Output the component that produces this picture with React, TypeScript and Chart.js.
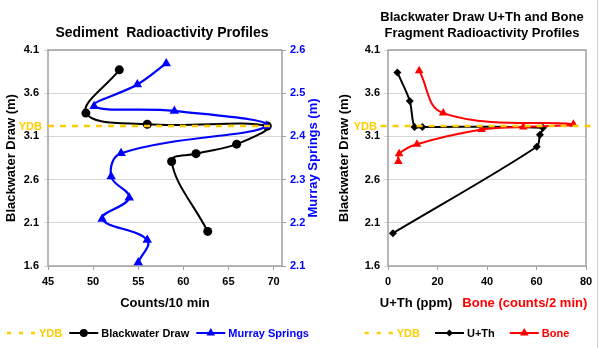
import React, { useEffect, useRef } from 'react';
import { Chart, registerables } from 'chart.js';
Chart.register(...registerables);

const FONT = '"Liberation Sans", Arial, Helvetica, sans-serif';
const YELLOW = '#FFCC00';
const BLUE = '#0000FF';
const RED = '#FF0000';
const BLACK = '#000000';
const GRID = '#d6d6d6';
const FRAME = '#a0a0a0';

// ---------- Left chart data ----------
const leftTitle = 'Sediment  Radioactivity Profiles';
const leftXTitle = 'Counts/10 min';
const depthTitle = 'Blackwater Draw (m)';
const msTitle = 'Murray Springs (m)';
const countTicks = [45, 50, 55, 60, 65, 70];
const depthTicks = [1.6, 2.1, 2.6, 3.1, 3.6, 4.1];
const msTicks = [2.1, 2.2, 2.3, 2.4, 2.5, 2.6];
const ydbDepth = 3.22;
const ydbCountsRange = [45, 70];
const bwCounts = [52.9, 49.2, 56.0, 69.3, 65.9, 61.4, 58.7, 62.7];
const bwDepth = [3.87, 3.37, 3.24, 3.22, 3.01, 2.9, 2.81, 2.0];
const msCounts = [58.1, 54.9, 50.1, 59.0, 69.2, 53.1, 52.0, 54.0, 51.0, 56.0, 55.0];
const msDepth = [2.569, 2.52, 2.47, 2.459, 2.424, 2.361, 2.307, 2.258, 2.209, 2.16, 2.108];

// ---------- Right chart data ----------
const rightTitle = ['Blackwater Draw U+Th and Bone', 'Fragment Radioactivity Profiles'];
const uthTitle = 'U+Th (ppm)';
const boneTitle = 'Bone (counts/2 min)';
const ppmTicks = [0, 20, 40, 60, 80];
const ydbPpmRange = [-3, 84];
const uthPpm = [3.8, 8.8, 10.7, 13.9, 62.6, 61.4, 60.1, 2.0];
const uthDepth = [3.84, 3.51, 3.21, 3.21, 3.2, 3.12, 2.98, 1.98];
const boneCounts = [12.6, 22.3, 74.9, 54.7, 37.8, 11.7, 4.5, 4.2];
const boneDepth = [3.86, 3.37, 3.24, 3.21, 3.18, 3.01, 2.9, 2.81];

const pts = (xs: number[], ys: number[]) => xs.map((x, i) => ({ x, y: ys[i] }));
const fixedTicks = (vals: number[]) => (scale: any) => {
  scale.ticks = vals.map((v) => ({ value: v }));
};
const fmt1 = (v: any) => Number(v).toFixed(1);
const bold = (size: number) => ({ family: FONT, size, weight: 'bold' as const });

function drawMarker(ctx: CanvasRenderingContext2D, style: string, x: number, y: number, r: number, color: string) {
  ctx.save();
  ctx.fillStyle = color;
  ctx.beginPath();
  if (style === 'circle') {
    ctx.arc(x, y, r, 0, Math.PI * 2);
  } else if (style === 'triangle') {
    ctx.moveTo(x, y - r);
    ctx.lineTo(x + 0.866 * r, y + 0.5 * r);
    ctx.lineTo(x - 0.866 * r, y + 0.5 * r);
    ctx.closePath();
  } else if (style === 'rectRot') {
    ctx.moveTo(x - r, y);
    ctx.lineTo(x, y - r);
    ctx.lineTo(x + r, y);
    ctx.lineTo(x, y + r);
    ctx.closePath();
  }
  ctx.fill();
  ctx.restore();
}

type LegendItem = { label: string; color: string; dashed?: boolean; marker?: string; r?: number };

function drawLegend(chart: any, items: LegendItem[], centerX: number, y: number, itemGap: number) {
  const ctx: CanvasRenderingContext2D = chart.ctx;
  ctx.save();
  ctx.font = `bold 11px ${FONT}`;
  const seg = 29;
  const tg = 3;
  const widths = items.map((it) => seg + tg + ctx.measureText(it.label).width);
  const total = widths.reduce((a, b) => a + b, 0) + itemGap * (items.length - 1);
  let x = centerX - total / 2;
  items.forEach((it, i) => {
    ctx.strokeStyle = it.color;
    ctx.lineWidth = it.dashed ? 2.5 : 2;
    ctx.setLineDash(it.dashed ? [4, 8] : []);
    ctx.beginPath();
    ctx.moveTo(x, y);
    ctx.lineTo(x + seg, y);
    ctx.stroke();
    ctx.setLineDash([]);
    if (it.marker) drawMarker(ctx, it.marker, x + seg / 2, y, it.r || 4, it.color);
    ctx.fillStyle = it.color;
    ctx.textAlign = 'left';
    ctx.textBaseline = 'middle';
    ctx.fillText(it.label, x + seg + tg, y + 0.5);
    x += widths[i] + itemGap;
  });
  ctx.restore();
}

function drawFrame(chart: any) {
  const { ctx, chartArea } = chart;
  ctx.save();
  ctx.strokeStyle = FRAME;
  ctx.lineWidth = 1.5;
  ctx.strokeRect(chartArea.left, chartArea.top, chartArea.right - chartArea.left, chartArea.bottom - chartArea.top);
  ctx.restore();
}

function drawYdbLabel(chart: any, rightX: number) {
  const { ctx } = chart;
  const yPix = chart.scales.y.getPixelForValue(ydbDepth);
  ctx.save();
  ctx.font = `bold 11px ${FONT}`;
  ctx.fillStyle = YELLOW;
  ctx.textAlign = 'right';
  ctx.textBaseline = 'middle';
  ctx.fillText('YDB', rightX, yPix + 0.5);
  ctx.restore();
}

const leftDeco = {
  id: 'leftDeco',
  beforeDatasetsDraw(chart: any) {
    drawFrame(chart);
  },
  afterDraw(chart: any) {
    const { ctx, chartArea } = chart;
    ctx.save();
    ctx.font = `bold 14px ${FONT}`;
    ctx.fillStyle = BLACK;
    ctx.textAlign = 'center';
    ctx.textBaseline = 'middle';
    ctx.fillText(leftTitle, 162, 33);
    ctx.restore();

    drawYdbLabel(chart, chartArea.left - 6);

    ctx.save();
    ctx.translate(313, (chartArea.top + chartArea.bottom) / 2);
    ctx.rotate(-Math.PI / 2);
    ctx.font = `bold 13px ${FONT}`;
    ctx.fillStyle = BLUE;
    ctx.textAlign = 'center';
    ctx.textBaseline = 'middle';
    ctx.fillText(msTitle, 0, 0);
    ctx.restore();

    drawLegend(
      chart,
      [
        { label: 'YDB', color: YELLOW, dashed: true },
        { label: 'Blackwater Draw', color: BLACK, marker: 'circle', r: 4 },
        { label: 'Murray Springs', color: BLUE, marker: 'triangle', r: 5 },
      ],
      158,
      333,
      7
    );
  },
};

const rightDeco = {
  id: 'rightDeco',
  beforeDatasetsDraw(chart: any) {
    drawFrame(chart);
  },
  afterDraw(chart: any) {
    const { ctx, chartArea } = chart;
    ctx.save();
    ctx.font = `bold 13px ${FONT}`;
    ctx.fillStyle = BLACK;
    ctx.textAlign = 'center';
    ctx.textBaseline = 'middle';
    ctx.fillText(rightTitle[0], 152, 17);
    ctx.fillText(rightTitle[1], 152, 33);

    // two-coloured x axis title
    const gap = 10;
    const w1 = ctx.measureText(uthTitle).width;
    const w2 = ctx.measureText(boneTitle).width;
    let x = 153.5 - (w1 + gap + w2) / 2;
    ctx.textAlign = 'left';
    ctx.fillText(uthTitle, x, 303);
    ctx.fillStyle = RED;
    ctx.fillText(boneTitle, x + w1 + gap, 303);

    // outer border line on the right
    ctx.strokeStyle = '#d0d0d0';
    ctx.lineWidth = 1;
    ctx.beginPath();
    ctx.moveTo(267.5, 0);
    ctx.lineTo(267.5, 348);
    ctx.stroke();
    ctx.restore();

    drawYdbLabel(chart, chartArea.left - 11);

    drawLegend(
      chart,
      [
        { label: 'YDB', color: YELLOW, dashed: true },
        { label: 'U+Th', color: BLACK, marker: 'rectRot', r: 3.5 },
        { label: 'Bone', color: RED, marker: 'triangle', r: 5 },
      ],
      137,
      333,
      15
    );
  },
};

const tickFont = bold(11);
const axisTitleFont = bold(13);

function leftConfig(): any {
  return {
    type: 'scatter',
    data: {
      datasets: [
        {
          label: 'YDB',
          data: pts(ydbCountsRange, [ydbDepth, ydbDepth]),
          yAxisID: 'y',
          showLine: true,
          borderColor: YELLOW,
          borderWidth: 2.5,
          borderDash: [6, 6],
          pointRadius: 0,
          order: 0,
          clip: false,
        },
        {
          label: 'Murray Springs',
          data: pts(msCounts, msDepth),
          yAxisID: 'y2',
          showLine: true,
          borderColor: BLUE,
          backgroundColor: BLUE,
          borderWidth: 2.2,
          tension: 0.4,
          pointStyle: 'triangle',
          pointRadius: 5.5,
          pointBorderWidth: 0,
          order: 1,
        },
        {
          label: 'Blackwater Draw',
          data: pts(bwCounts, bwDepth),
          yAxisID: 'y',
          showLine: true,
          borderColor: BLACK,
          backgroundColor: BLACK,
          borderWidth: 2,
          tension: 0.4,
          pointStyle: 'circle',
          pointRadius: 4.5,
          pointBorderWidth: 0,
          order: 2,
        },
      ],
    },
    options: {
      animation: false,
      responsive: false,
      events: [],
      layout: { padding: { left: 0, right: 5, top: 50, bottom: 33 } },
      plugins: { legend: { display: false }, tooltip: { enabled: false }, title: { display: false } },
      scales: {
        x: {
          type: 'linear',
          min: 45,
          max: 70.93,
          afterBuildTicks: fixedTicks(countTicks),
          afterFit: (s: any) => {
            s.height = 49;
          },
          grid: { drawOnChartArea: false, drawTicks: true, tickLength: 4, color: FRAME },
          border: { display: false },
          ticks: { font: tickFont, color: BLACK, padding: 5, maxRotation: 0 },
          title: { display: true, text: leftXTitle, font: axisTitleFont, color: BLACK, padding: { top: 4, bottom: 4 } },
        },
        y: {
          type: 'linear',
          position: 'left',
          min: 1.6,
          max: 4.1,
          afterBuildTicks: fixedTicks(depthTicks),
          afterFit: (s: any) => {
            s.width = 48;
          },
          grid: { color: GRID, drawTicks: true, tickLength: 4 },
          border: { display: false },
          ticks: { font: tickFont, color: BLACK, padding: 5, callback: fmt1 },
          title: { display: true, text: depthTitle, font: axisTitleFont, color: BLACK, padding: { top: 4, bottom: 4 } },
        },
        y2: {
          type: 'linear',
          position: 'right',
          min: 2.1,
          max: 2.6,
          afterBuildTicks: fixedTicks(msTicks),
          afterFit: (s: any) => {
            s.width = 43;
          },
          grid: { drawOnChartArea: false, drawTicks: true, tickLength: 4, color: FRAME },
          border: { display: false },
          ticks: { font: tickFont, color: BLUE, padding: 4, callback: fmt1 },
        },
      },
    },
    plugins: [leftDeco],
  };
}

function rightConfig(): any {
  return {
    type: 'scatter',
    data: {
      datasets: [
        {
          label: 'YDB',
          data: pts(ydbPpmRange, [ydbDepth, ydbDepth]),
          yAxisID: 'y',
          showLine: true,
          borderColor: YELLOW,
          borderWidth: 2.5,
          borderDash: [6, 6],
          pointRadius: 0,
          order: 0,
          clip: false,
        },
        {
          label: 'Bone',
          data: pts(boneCounts, boneDepth),
          yAxisID: 'y',
          showLine: true,
          borderColor: RED,
          backgroundColor: RED,
          borderWidth: 2,
          tension: 0.4,
          pointStyle: 'triangle',
          pointRadius: 5,
          pointBorderWidth: 0,
          order: 1,
        },
        {
          label: 'U+Th',
          data: pts(uthPpm, uthDepth),
          yAxisID: 'y',
          showLine: true,
          borderColor: BLACK,
          backgroundColor: BLACK,
          borderWidth: 2,
          tension: 0.3,
          pointStyle: 'rectRot',
          pointRadius: 4,
          pointBorderWidth: 0,
          order: 2,
        },
      ],
    },
    options: {
      animation: false,
      responsive: false,
      events: [],
      layout: { padding: { left: 3, right: 14, top: 50, bottom: 33 } },
      plugins: { legend: { display: false }, tooltip: { enabled: false }, title: { display: false } },
      scales: {
        x: {
          type: 'linear',
          min: 0,
          max: 80,
          afterBuildTicks: fixedTicks(ppmTicks),
          afterFit: (s: any) => {
            s.height = 49;
          },
          grid: { drawOnChartArea: false, drawTicks: true, tickLength: 4, color: FRAME },
          border: { display: false },
          ticks: { font: tickFont, color: BLACK, padding: 5, maxRotation: 0 },
          title: { display: false },
        },
        y: {
          type: 'linear',
          position: 'left',
          min: 1.6,
          max: 4.1,
          afterBuildTicks: fixedTicks(depthTicks),
          afterFit: (s: any) => {
            s.width = 55;
          },
          grid: { color: GRID, drawTicks: true, tickLength: 4 },
          border: { display: false },
          ticks: { font: tickFont, color: BLACK, padding: 4, callback: fmt1 },
          title: { display: true, text: depthTitle, font: axisTitleFont, color: BLACK, padding: { top: 4, bottom: 4 } },
        },
      },
    },
    plugins: [rightDeco],
  };
}

function ChartCanvas({ config, width, height, left }: { config: () => any; width: number; height: number; left: number }) {
  const ref = useRef<HTMLCanvasElement | null>(null);
  useEffect(() => {
    if (!ref.current) return;
    const chart = new Chart(ref.current, config());
    return () => chart.destroy();
  }, [config]);
  return (
    <canvas
      ref={ref}
      width={width}
      height={height}
      style={{ position: 'absolute', left, top: 0, width, height, display: 'block' }}
    />
  );
}

export default function App() {
  useEffect(() => {
    document.body.style.margin = '0';
  }, []);
  return (
    <div style={{ position: 'relative', width: 600, height: 348, background: '#ffffff', overflow: 'hidden' }}>
      <ChartCanvas config={leftConfig} width={330} height={348} left={0} />
      <ChartCanvas config={rightConfig} width={270} height={348} left={330} />
    </div>
  );
}
